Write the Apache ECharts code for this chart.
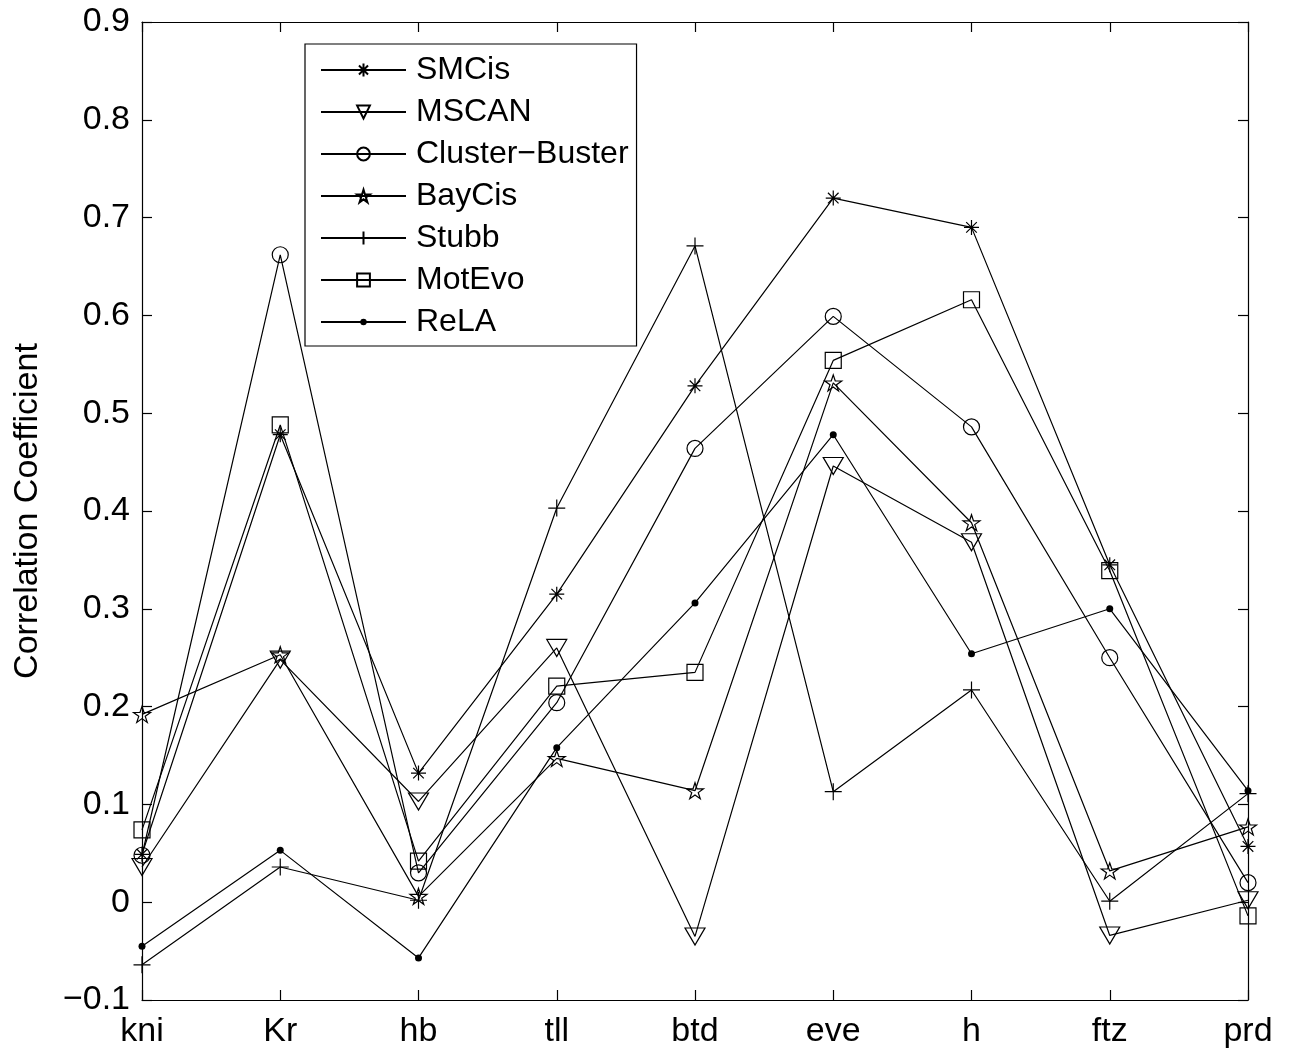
<!DOCTYPE html>
<html>
<head>
<meta charset="utf-8">
<script src="https://cdn.jsdelivr.net/npm/echarts@6/dist/echarts.min.js"></script>
<style>
html,body{margin:0;padding:0;background:#fff;}
#chart{width:1291px;height:1049px;}
</style>
</head>
<body>
<div id="chart"></div>
<script>
const categories = ['kni', 'Kr', 'hb', 'tll', 'btd', 'eve', 'h', 'ftz', 'prd'];
const seriesNames = ['SMCis', 'MSCAN', 'Cluster\u2212Buster', 'BayCis', 'Stubb', 'MotEvo', 'ReLA'];
const SMCis         = [0.049, 0.478, 0.132, 0.315, 0.528, 0.720, 0.690, 0.345, 0.057];
const MSCAN         = [0.036, 0.248, 0.103, 0.260, -0.035, 0.446, 0.368, -0.034, 0.002];
const ClusterBuster = [0.048, 0.662, 0.030, 0.204, 0.464, 0.599, 0.486, 0.250, 0.020];
const BayCis        = [0.192, 0.253, 0.006, 0.147, 0.114, 0.531, 0.388, 0.032, 0.077];
const Stubb         = [-0.064, 0.036, 0.002, 0.403, 0.671, 0.113, 0.217, 0.001, 0.111];
const MotEvo        = [0.074, 0.488, 0.042, 0.221, 0.235, 0.554, 0.616, 0.339, -0.014];
const ReLA          = [-0.045, 0.053, -0.057, 0.158, 0.306, 0.478, 0.254, 0.300, 0.114];
const yTicks = [-0.1, 0, 0.1, 0.2, 0.3, 0.4, 0.5, 0.6, 0.7, 0.8, 0.9];

const FONT = '"Liberation Sans", Arial, sans-serif';
const symbols = {
  asterisk: 'path://M0,-10 L0,10 M-10,0 L10,0 M-7.07,-7.07 L7.07,7.07 M-7.07,7.07 L7.07,-7.07',
  triDown: 'path://M0,0 L20,0 L10,17 Z',
  star: 'path://M0,-10 L2.245,-3.09 L9.511,-3.09 L3.633,1.18 L5.878,8.09 L0,3.82 L-5.878,8.09 L-3.633,1.18 L-9.511,-3.09 L-2.245,-3.09 Z',
  plus: 'path://M0,-10 L0,10 M-10,0 L10,0',
  dot: 'path://M0,0 M14,14 M3.5,7 A3.5,3.5 0 1 1 10.5,7 A3.5,3.5 0 1 1 3.5,7 Z'
};

const dataList = [SMCis, MSCAN, ClusterBuster, BayCis, Stubb, MotEvo, ReLA];
const markerDefs = [
  {symbol: symbols.asterisk, size: 15, fill: 'transparent'},
  {symbol: symbols.triDown, size: [20, 17], fill: 'transparent'},
  {symbol: 'circle', size: 16, fill: 'transparent'},
  {symbol: symbols.star, size: [17, 16], fill: 'transparent'},
  {symbol: symbols.plus, size: 17, fill: 'transparent'},
  {symbol: 'rect', size: 16, fill: 'transparent'},
  {symbol: symbols.dot, size: 14, fill: '#000'}
];

const series = seriesNames.map((name, i) => ({
  name: name,
  type: 'line',
  data: dataList[i],
  symbol: markerDefs[i].symbol,
  symbolSize: markerDefs[i].size,
  showAllSymbol: true,
  color: '#000',
  lineStyle: {color: '#000', width: 1.2},
  itemStyle: {
    color: markerDefs[i].fill,
    borderColor: '#000',
    borderWidth: i === 6 ? 0 : 1.2
  },
  emphasis: {disabled: true},
  z: 3
}));

const chart = echarts.init(document.getElementById('chart'), null, {renderer: 'canvas'});
chart.setOption({
  animation: false,
  backgroundColor: '#fff',
  grid: {left: 142, right: 43, top: 22, bottom: 49, containLabel: false},
  legend: {
    orient: 'vertical',
    left: 305,
    top: 44,
    data: seriesNames,
    itemWidth: 85,
    itemHeight: 16,
    itemGap: 10,
    padding: [10, 8, 8, 15],
    borderColor: '#000',
    borderWidth: 1.2,
    backgroundColor: '#fff',
    textStyle: {fontFamily: FONT, fontSize: 32, color: '#000', lineHeight: 32, padding: [0, 0, 0, 5]},
    selectedMode: false
  },
  xAxis: [{
    type: 'category',
    data: categories,
    boundaryGap: false,
    position: 'bottom',
    axisLine: {show: true, onZero: false, lineStyle: {color: '#000', width: 1.2}},
    axisTick: {show: true, inside: true, length: 10, alignWithLabel: true, lineStyle: {color: '#000', width: 1.2}},
    axisLabel: {color: '#000', fontFamily: FONT, fontSize: 34, margin: 15, interval: 0},
    splitLine: {show: false}
  }, {
    type: 'category',
    data: categories,
    boundaryGap: false,
    position: 'top',
    axisLine: {show: true, onZero: false, lineStyle: {color: '#000', width: 1.2}},
    axisTick: {show: true, inside: true, length: 10, lineStyle: {color: '#000', width: 1.2}},
    axisLabel: {show: false},
    splitLine: {show: false}
  }],
  yAxis: [{
    type: 'value',
    min: yTicks[0],
    max: yTicks[yTicks.length - 1],
    interval: 0.1,
    position: 'left',
    name: 'Correlation Coefficient',
    nameLocation: 'middle',
    nameGap: 97,
    nameTextStyle: {color: '#000', fontFamily: FONT, fontSize: 34},
    axisLine: {show: true, onZero: false, lineStyle: {color: '#000', width: 1.2}},
    axisTick: {show: true, inside: true, length: 10, lineStyle: {color: '#000', width: 1.2}},
    axisLabel: {
      color: '#000', fontFamily: FONT, fontSize: 34, margin: 12,
      formatter: function (v) {
        const r = Math.round(v * 10) / 10;
        if (Math.abs(r) < 1e-9) return '0';
        return (r < 0 ? '\u2212' : '') + Math.abs(r).toFixed(1);
      }
    },
    splitLine: {show: false}
  }, {
    type: 'value',
    min: yTicks[0],
    max: yTicks[yTicks.length - 1],
    interval: 0.1,
    position: 'right',
    axisLine: {show: true, onZero: false, lineStyle: {color: '#000', width: 1.2}},
    axisTick: {show: true, inside: true, length: 10, lineStyle: {color: '#000', width: 1.2}},
    axisLabel: {show: false},
    splitLine: {show: false}
  }],
  series: series
});
</script>
</body>
</html>
